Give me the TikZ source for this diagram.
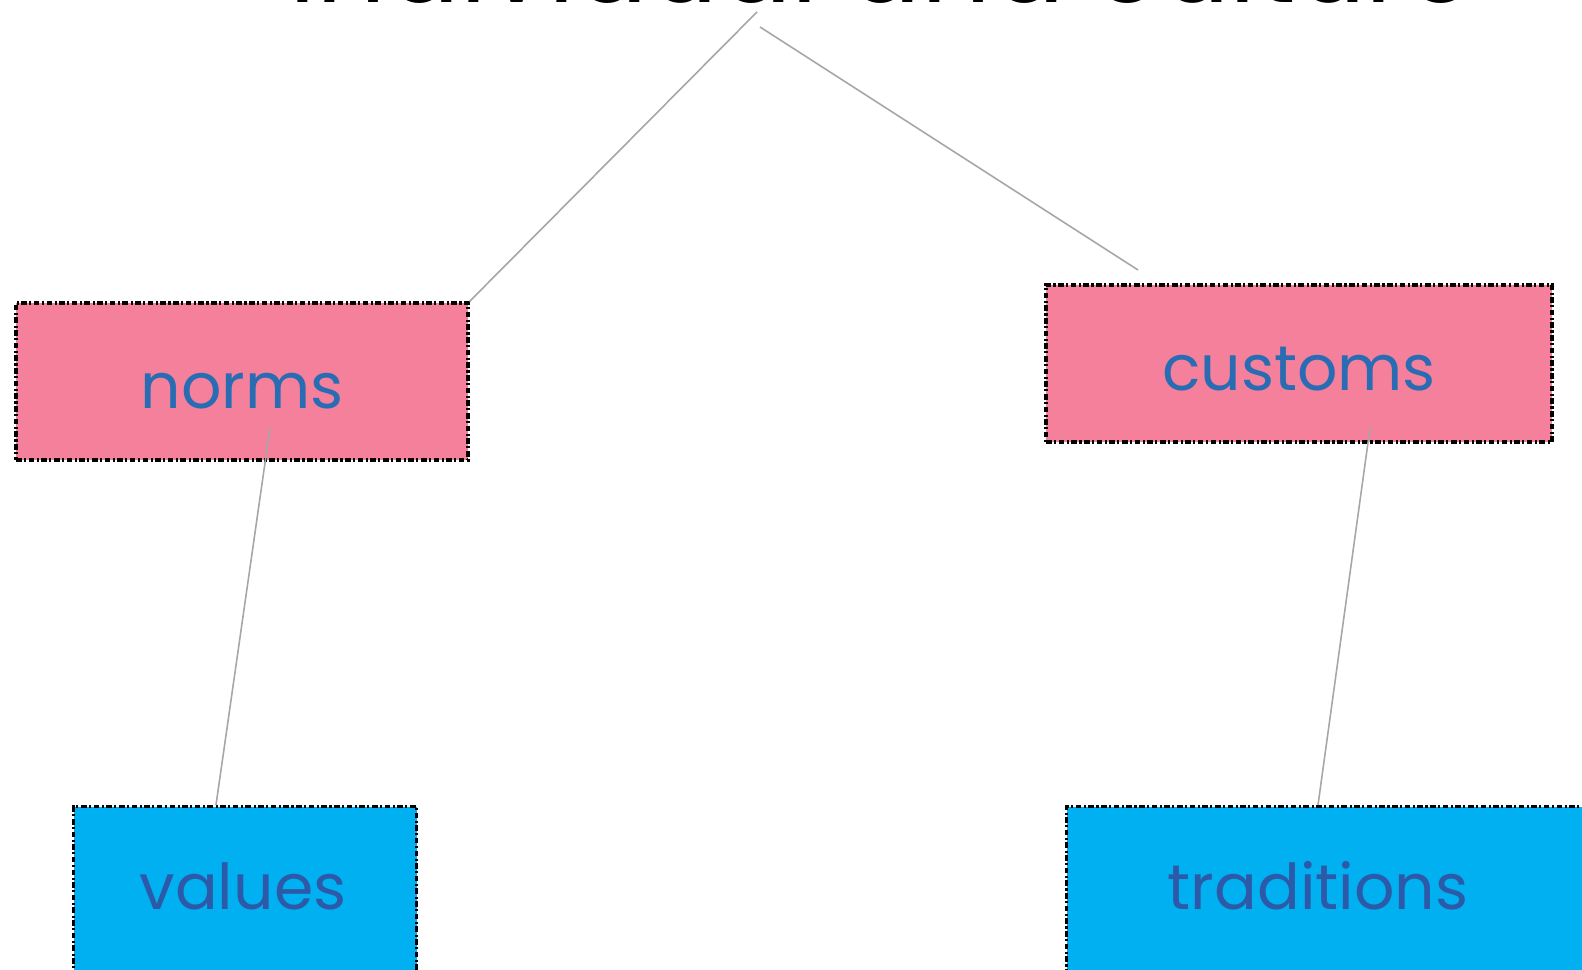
\documentclass[tikz,border=0pt]{standalone}
\usepackage{fontspec}
\setmainfont{Poppins}
\usetikzlibrary{positioning}
\definecolor{colorPink}{RGB}{245,128,155}
\definecolor{colorSky}{RGB}{0,176,240}
\definecolor{colorInk}{RGB}{40,108,180}
\definecolor{colorInkDark}{RGB}{44,90,168}
\tikzset{
  dotbox/.style={rectangle, draw=black, line width=0.9pt, dash pattern=on 1.6pt off 0.7pt on 0.6pt off 0.7pt, inner sep=0pt},
  pinkbox/.style={dotbox, fill=colorPink, text=colorInk, text height=0.55cm, font=\fontsize{18}{22}\selectfont},
  skybox/.style={dotbox, fill=colorSky},
  skytext/.style={text=colorInkDark, font=\fontsize{18}{22}\selectfont},
  link/.style={draw=gray!70, line width=0.45pt}
}

\begin{document}
\begin{tikzpicture}
\useasboundingbox (0,0) rectangle (15.82,9.70);
\node[font=\fontsize{31}{36}\selectfont, anchor=base] (title) at (8.82,9.67) {individual and culture};
\node[pinkbox, minimum width=4.52cm, minimum height=1.57cm] (norms) at (2.42,5.885) {norms};
\node[pinkbox, minimum width=5.06cm, minimum height=1.57cm] (customs) at (12.99,6.065) {customs};
\node[skybox, minimum width=3.43cm, minimum height=2cm, anchor=north west] (valuesBox) at (0.72,1.65) {};
\node[skytext] (values) at (2.43,0.84) {values};
\node[skybox, minimum width=5.4cm, minimum height=2cm, anchor=north west] (traditionsBox) at (10.65,1.65) {};
\node[skytext] (traditions) at (13.18,0.84) {traditions};
% free ends of the links
\coordinate (titleFootL) at (7.57,9.58);
\coordinate (titleFootR) at (7.60,9.43);
\coordinate (customsTip) at (11.38,7.00);
\coordinate (normsFoot) at (2.70,5.42);
\coordinate (customsFoot) at (13.70,5.42);
\draw[link] (titleFootL) -- (norms.north east);
\draw[link] (titleFootR) -- (customsTip);
\draw[link] (normsFoot) -- ([xshift=1.44cm]valuesBox.north west);
\draw[link] (customsFoot) -- ([xshift=2.53cm]traditionsBox.north west);
\end{tikzpicture}
\end{document}
